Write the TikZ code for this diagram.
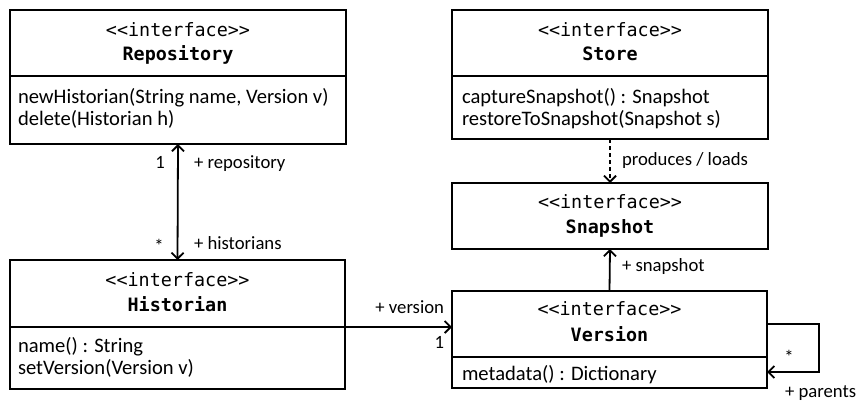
\documentclass[tikz,border=0pt]{standalone}
\usepackage{fontspec}
\setmainfont{Carlito}
\newfontfamily\codefont{DejaVu Sans Mono}
\usetikzlibrary{arrows.meta}

\begin{document}
\begin{tikzpicture}[x=1pt, y=-1pt,
  every node/.style={inner sep=0pt, outer sep=0pt},
  part/.style={draw, line width=1.8pt, anchor=north west},
  stereo/.style={anchor=base, font=\codefont\fontsize{18.4}{20}\selectfont},
  cname/.style={anchor=base, font=\codefont\bfseries\fontsize{18.4}{20}\selectfont},
  member/.style={anchor=base west, font=\fontsize{20.6}{24}\selectfont},
  lbl/.style={font=\fontsize{18.7}{22}\selectfont},
  tip/.tip={Straight Barb[length=6pt, width=12pt, line width=1.8pt]},
  assoc/.style={line width=1.8pt, -tip},
  bothways/.style={line width=1.8pt, tip-tip},
  depends/.style={assoc, dash pattern=on 4pt off 3pt}
]
\useasboundingbox (0,0) rectangle (856,400);

% Repository
\node[part, minimum width=336pt, minimum height=66pt] (repoH) at (10,10) {};
\node[part, minimum width=336pt, minimum height=68pt] (repoB) at (10,76) {};
\node[stereo] (repoS) at (178,36) {<<interface>>};
\node[cname]  (repoN) at (178,60) {Repository};
\node[member] (repoM1) at (18,103) {newHistorian(String name, Version v)};
\node[member] (repoM2) at (18,125) {delete(Historian h)};

% Historian
\node[part, minimum width=335pt, minimum height=67pt] (histH) at (10,260) {};
\node[part, minimum width=335pt, minimum height=62pt] (histB) at (10,327) {};
\node[stereo] (histS) at (177.5,286) {<<interface>>};
\node[cname]  (histN) at (177.5,311) {Historian};
\node[member] (histM1) at (18,352) {name() : String};
\node[member] (histM2) at (18,374) {setVersion(Version v)};

% Store
\node[part, minimum width=316pt, minimum height=66pt] (storeH) at (452,10) {};
\node[part, minimum width=316pt, minimum height=63pt] (storeB) at (452,76) {};
\node[stereo] (storeS) at (610,36) {<<interface>>};
\node[cname]  (storeN) at (610,60) {Store};
\node[member] (storeM1) at (462,103) {captureSnapshot() : Snapshot};
\node[member] (storeM2) at (462,125) {restoreToSnapshot(Snapshot s)};

% Snapshot
\node[part, minimum width=316pt, minimum height=66pt] (snapH) at (452,183) {};
\node[stereo] (snapS) at (610,208) {<<interface>>};
\node[cname]  (snapN) at (610,233) {Snapshot};

% Version
\node[part, minimum width=315pt, minimum height=66pt] (verH) at (452,291) {};
\node[part, minimum width=315pt, minimum height=31pt] (verB) at (452,357) {};
\node[stereo] (verS) at (609.5,315) {<<interface>>};
\node[cname]  (verN) at (609.5,341) {Version};
\node[member] (verM1) at (462,380) {metadata() : Dictionary};

% Repository <-> Historian
\draw[bothways] (repoB.south) -- (histH.north);
\node[lbl, anchor=base]      (mRepo)  at (160,168) {1};
\node[lbl, anchor=base west] (rRepo)  at (194,168) {+ repository};
\node[lbl, anchor=base]      (mHist)  at (159,252) {*};
\node[lbl, anchor=base west] (rHist)  at (194,249) {+ historians};

% Store ..> Snapshot
\draw[depends] (storeB.south) -- (snapH.north);
\node[lbl, anchor=base west] (rProd) at (622,165) {produces / loads};

% Version -> Snapshot
\draw[assoc] (verH.north) -- (snapH.south);
\node[lbl, anchor=base west] (rSnap) at (622,271) {+ snapshot};

% Historian -> Version
\draw[assoc] (histH.south east) -- (histH.south east -| verH.west);
\node[lbl, anchor=base east] (rVer) at (444,313) {+ version};
\node[lbl, anchor=base east] (mVer) at (444,348) {1};

% Version -> Version (parents)
\coordinate (loopTop) at (819,324);
\coordinate (loopBot) at (819,372);
\draw[assoc] (verH.east |- loopTop) -- (loopTop) -- (loopBot) -- (verH.east |- loopBot);
\node[lbl, anchor=base]      (mPar) at (789,363) {*};
\node[lbl, anchor=base west] (rPar) at (785,397) {+ parents};
\end{tikzpicture}
\end{document}
